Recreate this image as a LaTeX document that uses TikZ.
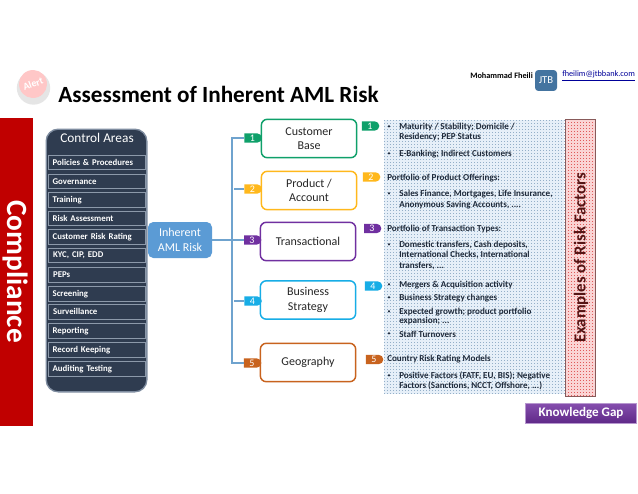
\documentclass[tikz,border=0pt]{standalone}
\usepackage{fontspec}
\setmainfont{Carlito}
\usetikzlibrary{shapes.misc,calc,shadings}
\definecolor{navy}{HTML}{2F3C50}
\definecolor{panelEdge}{HTML}{7F8DA0}
\definecolor{itemEdge}{HTML}{8C99AA}
\definecolor{lineBlue}{HTML}{6FA3CE}
\definecolor{inhBlue}{HTML}{5B9BD5}
\definecolor{cGreen}{HTML}{0FA06A}
\definecolor{cYellow}{HTML}{FFB81C}
\definecolor{cPurple}{HTML}{7030A0}
\definecolor{cCyan}{HTML}{17ADE6}
\definecolor{cOrange}{HTML}{C8631E}
\definecolor{gridBg}{HTML}{E6EFF8}
\definecolor{gridLine}{HTML}{94AFC8}
\definecolor{redBg}{HTML}{FAD4D4}
\definecolor{redLine}{HTML}{E05A5A}
\definecolor{barRed}{HTML}{C00000}
\definecolor{txt}{HTML}{1F2A3A}
\definecolor{exText}{HTML}{551414}
\tikzset{
  x=0.75pt,y=-0.75pt,
  itembox/.style={draw=itemEdge,line width=0.7pt,fill=navy,text=white,anchor=north west,minimum width=73pt,minimum height=11.2pt,inner sep=0pt,inner xsep=3.5pt,align=left,font=\fontsize{6.6}{7}\selectfont\bfseries,text width=66pt},
  catbox/.style={draw=#1,fill=white,line width=1.1pt,rounded corners=4.5pt,minimum width=71.5pt,minimum height=28.8pt,inner sep=0pt,align=center,font=\fontsize{9}{10.8}\selectfont,text=black!85},
  tagm/.style={rounded rectangle,rounded rectangle left arc=none,fill=#1,text=white,minimum width=13pt,minimum height=7pt,inner sep=0pt,font=\fontsize{7.5}{7.5}\selectfont},
  factor/.style={anchor=west,inner sep=0pt,font=\fontsize{6.8}{7}\selectfont\bfseries,text=txt},
  dotm/.style={inner sep=0pt,font=\fontsize{4.5}{5}\selectfont,text=txt},
  link/.style={draw=lineBlue,line width=1.1pt},
}
\begin{document}
\begin{tikzpicture}
\useasboundingbox (0,0) rectangle (638,493);
\fill[white] (0,0) rectangle (638,493);
% header
\node[circle,fill=black!10,minimum size=25pt,inner sep=0pt] (alertbase) at (33.5,88) {};
\node[circle,fill=red!22,minimum size=21pt,inner sep=0pt,text=white,font=\fontsize{7.5}{8}\selectfont\bfseries,rotate=20] (alert) at (33,84) {Alert};
\node[anchor=west,inner sep=0pt,font=\fontsize{17.4}{19}\selectfont\bfseries,text=black] (title) at (58,94) {Assessment of Inherent AML Risk};
\node[anchor=west,inner sep=0pt,font=\fontsize{6.2}{7}\selectfont\bfseries] (author) at (470,76) {Mohammad Fheili};
\node[fill=inhBlue!75!black,rounded corners=2.5pt,minimum width=16.5pt,minimum height=15.7pt,inner sep=0pt,text=white,font=\fontsize{8}{9}\selectfont] (jtb) at (546,80.5) {JTB};
\node[anchor=west,inner sep=0pt,font=\fontsize{6.2}{7}\selectfont,text=blue!60!black] (mail) at (562,76) {\underline{fheilim@jtbbank.com}};
% compliance bar
\node[fill=barRed,minimum width=24.75pt,minimum height=231pt,inner sep=0pt,anchor=north west] (bar) at (0,118) {};
\node[rotate=-90,text=white,font=\fontsize{22}{24}\selectfont\bfseries,inner sep=0pt] (compliance) at (15,271.5) {Compliance};
% control areas
\node[draw=panelEdge,fill=navy,line width=1pt,rounded corners=9pt,minimum width=75.5pt,minimum height=197pt,anchor=north west,inner sep=0pt] (panel) at (45.5,128.5) {};
\node[text=white,font=\fontsize{10}{11}\selectfont,inner sep=0pt] (ctitle) at (97,138) {Control Areas};
\node[itembox] (i1) at (47.5,154.5) {Policies \& Procedures};
\node[itembox] (i2) at (47.5,173.5) {Governance};
\node[itembox] (i3) at (47.5,192) {Training};
\node[itembox] (i4) at (47.5,210.5) {Risk Assessment};
\node[itembox] (i5) at (47.5,229) {Customer Risk Rating};
\node[itembox] (i6) at (48,247.5) {KYC, CIP, EDD};
\node[itembox] (i7) at (48,267) {PEPs};
\node[itembox] (i8) at (47.5,286) {Screening};
\node[itembox] (i9) at (48,304) {Surveillance};
\node[itembox] (i10) at (47.5,323) {Reporting};
\node[itembox] (i11) at (47.5,342) {Record Keeping};
\node[itembox] (i12) at (47.5,361) {Auditing Testing};
% inherent
\node[fill=inhBlue,rounded corners=4pt,minimum width=48pt,minimum height=27pt,inner sep=0pt,align=center,text=white,font=\fontsize{9}{11}\selectfont] (inh) at (180,240) {Inherent\\AML Risk};
% category boxes
\node[catbox=cGreen] (b1) at (309,138.5) {Customer\\Base};
\node[catbox=cYellow] (b2) at (309,190.5) {Product /\\Account};
\node[catbox=cPurple] (b3) at (308,241.5) {Transactional};
\node[catbox=cCyan] (b4) at (308,300) {Business\\Strategy};
\node[catbox=cOrange] (b5) at (308,362.5) {Geography};
% left tags
\node[tagm=cGreen] (l1) at (252.5,138) {1};
\node[tagm=cYellow] (l2) at (252.5,189) {2};
\node[tagm=cPurple] (l3) at (252,240) {3};
\node[tagm=cCyan] (l4) at (252.5,301) {4};
\node[tagm=cOrange] (l5) at (252,363) {5};
% connectors
\coordinate (t1) at (232,138);
\coordinate (t2) at (234,189);
\coordinate (t4) at (234,301);
\coordinate (t5) at (232,363);
\draw[link] (l1.west) -- (t1) -- (t5) -- (l5.west);
\draw[link] (t2) -- (l2.west);
\draw[link] (inh.east) -- (l3.west);
\draw[link] (t4) -- (l4.west);
% factor panel
\fill[gridBg] (384,120) rectangle (564,394);
\begin{scope}[gridLine,line width=0.5pt,dash pattern=on 1.1pt off 1.15pt]
\foreach \y in {120,123,...,394} \draw (384,\y) -- (564,\y);
\foreach \x in {384,387,...,564} \draw (\x,120) -- (\x,394);
\end{scope}
% red panel
\fill[redBg] (565,119) rectangle (595,396);
\begin{scope}[redLine,line width=0.6pt,dash pattern=on 1.1pt off 1.15pt]
\foreach \y in {119,122,...,396} \draw (565,\y) -- (595,\y);
\foreach \x in {565,568,...,595} \draw (\x,119) -- (\x,396);
\end{scope}
\draw[draw=exText!70,line width=0.6pt] (565,119) rectangle (595,396);
\node[rotate=90,font=\fontsize{12.6}{14}\selectfont\bfseries,text=exText,inner sep=0pt] (examples) at (581,258) {Examples of Risk Factors};
% right tags
\node[tagm=cGreen] (r1) at (370,126) {1};
\node[tagm=cYellow] (r2) at (371,177) {2};
\node[tagm=cPurple] (r3) at (372,228.5) {3};
\node[tagm=cCyan] (r4) at (373,286) {4};
\node[tagm=cOrange] (r5) at (374,359.5) {5};
% factor text
\foreach \nm/\xx/\yy/\tx in {
 f1/399/127/{Maturity / Stability; Domicile /},
 f2/399/137/{Residency; PEP Status},
 f3/399/154/{E-Banking; Indirect Customers},
 f4/387/178/{Portfolio of Product Offerings:},
 f5/399/194/{Sales Finance, Mortgages, Life Insurance,},
 f6/399/205/{Anonymous Saving Accounts, ....},
 f7/387/229/{Portfolio of Transaction Types:},
 f8/399/245/{Domestic transfers, Cash deposits,},
 f9/399/255/{International Checks, International},
 f10/399/266/{transfers, ...},
 f11/399/285/{Mergers \& Acquisition activity},
 f12/399/298/{Business Strategy changes},
 f13/399/312/{Expected growth; product portfolio},
 f14/399/321/{expansion; ...},
 f15/399/334/{Staff Turnovers},
 f16/387/359/{Country Risk Rating Models},
 f17/399/376/{Positive Factors (FATF, EU, BIS); Negative},
 f18/399/386/{Factors (Sanctions, NCCT, Offshore, ...)}
}{\node[factor] (\nm) at (\xx,\yy) {\tx};}
\foreach \nm/\yy in {d1/127,d2/154,d3/194,d4/245,d5/285,d6/298,d7/312,d8/334,d9/376}
 {\node[dotm] (\nm) at (389,\yy) {•};}
% knowledge gap
\node[top color=cPurple!85!white,bottom color=cPurple!85!black,draw=cPurple!50!white,line width=0.4pt,minimum width=83pt,minimum height=15pt,inner sep=0pt,text=white,font=\fontsize{9.8}{11}\selectfont\bfseries] (gap) at (581,413) {Knowledge Gap};
\end{tikzpicture}
\end{document}
